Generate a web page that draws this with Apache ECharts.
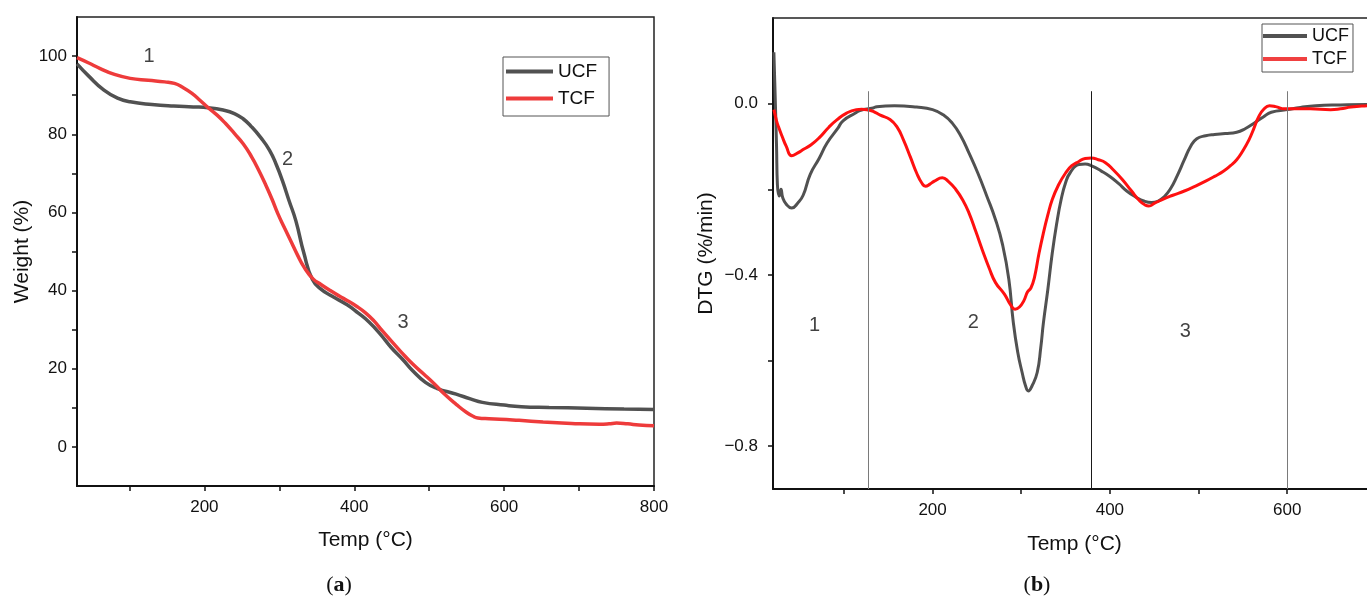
<!DOCTYPE html>
<html>
<head>
<meta charset="utf-8">
<title>TGA / DTG of UCF and TCF</title>
<script src="https://cdn.jsdelivr.net/npm/echarts@6/dist/echarts.min.js"></script>
<style>
  html, body { margin: 0; padding: 0; background: #fff; }
  #chart { width: 1367px; height: 598px; }
</style>
</head>
<body>
<div id="chart"></div>
<script>
// ---- (a) TGA: weight remaining, [temperature °C, weight %] ----
const tgaUCF = [
  [30, 98.0], [45, 95.0], [66, 91.3], [85, 89.2], [101, 88.3], [130, 87.6],
  [159, 87.2], [185, 87.0], [205, 86.8], [225, 86.2], [240, 85.3], [252, 83.9],
  [263, 81.9], [275, 79.2], [287, 75.9], [296, 72.2], [304, 68.2], [313, 63.0],
  [322, 57.9], [333, 49.4], [344, 42.9], [356, 40.3], [370, 38.6], [391, 36.3],
  [405, 34.3], [420, 31.9], [435, 28.8], [449, 25.5], [465, 22.3], [478, 19.5],
  [495, 16.5], [510, 15.0], [536, 13.5], [555, 12.3], [571, 11.4], [600, 10.7],
  [623, 10.3], [660, 10.1], [710, 9.9], [760, 9.7], [800, 9.6]
];
const tgaTCF = [
  [30, 99.6], [45, 98.3], [61, 96.8], [80, 95.3], [101, 94.3], [125, 93.8],
  [147, 93.4], [160, 93.0], [171, 92.0], [183, 90.5], [194, 88.7], [205, 86.8],
  [217, 84.9], [228, 82.8], [240, 80.2], [252, 77.5], [263, 74.2], [272, 71.0],
  [281, 67.4], [290, 63.5], [298, 59.7], [307, 56.0], [315, 52.8], [324, 49.2],
  [333, 46.0], [345, 43.0], [356, 41.5], [368, 40.0], [380, 38.6], [391, 37.4],
  [403, 36.0], [415, 34.3], [426, 32.3], [437, 29.8], [449, 27.2], [463, 24.2],
  [478, 21.2], [493, 18.6], [507, 16.1], [521, 13.4], [536, 10.9], [550, 8.8],
  [560, 7.7], [565, 7.4], [580, 7.2], [594, 7.1], [620, 6.8], [652, 6.4],
  [690, 6.0], [727, 5.8], [740, 5.9], [750, 6.1], [765, 5.9], [780, 5.6], [800, 5.4]
];

// ---- (b) DTG: derivative weight, [temperature °C, %/min] ----
const dtgUCF = [
  [21, 0.12], [22, 0.05], [24, -0.10], [25, -0.19], [27, -0.216], [29, -0.200],
  [31, -0.220], [35, -0.235], [41, -0.244], [48, -0.232], [54, -0.214], [62, -0.165],
  [72, -0.128], [81, -0.092], [93, -0.058], [99, -0.040], [113, -0.022], [118, -0.016],
  [133, -0.010], [137, -0.007], [157, -0.005], [182, -0.008], [200, -0.014], [212, -0.026],
  [222, -0.045], [232, -0.076], [241, -0.115], [251, -0.162], [261, -0.215], [271, -0.271],
  [279, -0.330], [286, -0.410], [291, -0.510], [296, -0.580], [301, -0.628], [305, -0.660],
  [308, -0.671], [312, -0.660], [318, -0.628], [322, -0.570], [325, -0.512], [330, -0.434],
  [335, -0.349], [340, -0.280], [345, -0.224], [350, -0.185], [355, -0.162], [365, -0.142],
  [372, -0.141], [380, -0.146], [390, -0.157], [400, -0.170], [410, -0.187], [419, -0.204],
  [429, -0.218], [439, -0.228], [447, -0.231], [454, -0.228], [461, -0.218], [468, -0.200],
  [476, -0.168], [484, -0.131], [491, -0.100], [498, -0.082], [508, -0.075], [518, -0.072],
  [530, -0.070], [543, -0.067], [553, -0.058], [563, -0.045], [573, -0.031], [582, -0.020],
  [600, -0.014], [615, -0.009], [632, -0.005], [660, -0.003], [690, -0.002], [700, -0.002]
];
const dtgTCF = [
  [21, -0.014], [24, -0.040], [26, -0.053], [30, -0.075], [35, -0.100], [41, -0.122],
  [48, -0.115], [55, -0.106], [63, -0.096], [72, -0.080], [83, -0.055], [92, -0.038],
  [103, -0.022], [114, -0.014], [120, -0.013], [128, -0.015], [133, -0.018], [141, -0.027],
  [152, -0.037], [160, -0.055], [167, -0.084], [175, -0.125], [182, -0.162], [188, -0.186],
  [192, -0.193], [197, -0.188], [202, -0.181], [211, -0.173], [218, -0.182], [226, -0.200],
  [234, -0.225], [241, -0.255], [249, -0.300], [256, -0.341], [264, -0.385], [271, -0.418],
  [281, -0.445], [288, -0.470], [293, -0.480], [298, -0.475], [303, -0.460], [307, -0.440],
  [311, -0.430], [315, -0.405], [320, -0.350], [325, -0.302], [330, -0.260], [335, -0.224],
  [342, -0.190], [350, -0.162], [357, -0.145], [365, -0.135], [372, -0.128], [379, -0.127],
  [387, -0.131], [395, -0.138], [404, -0.155], [414, -0.177], [424, -0.203], [434, -0.228],
  [440, -0.237], [444, -0.239], [450, -0.233], [459, -0.224], [471, -0.214], [484, -0.204],
  [496, -0.193], [508, -0.181], [518, -0.170], [528, -0.158], [536, -0.145], [543, -0.131],
  [550, -0.110], [557, -0.084], [562, -0.060], [568, -0.030], [574, -0.012], [580, -0.005],
  [587, -0.007], [597, -0.012], [612, -0.012], [626, -0.012], [649, -0.014], [660, -0.012],
  [672, -0.008], [690, -0.005], [700, -0.004]
];

// decomposition stage boundaries drawn on the DTG panel (°C) and how high they reach
const stageBounds = [127, 379, 600];
const stageLineTop = 0.029;

// stage numbers: [x, y, text]
const tgaStageLabels = [[126, 99.8, '1'], [311, 73.5, '2'], [465, 31.9, '3']];
const dtgStageLabels = [[67, -0.518, '1'], [246, -0.512, '2'], [485, -0.532, '3']];

// tick positions and labels
const tgaXTicks = [100, 200, 300, 400, 500, 600, 700, 800];
const tgaXLabels = [200, 400, 600, 800];
const tgaYTicks = [0, 10, 20, 30, 40, 50, 60, 70, 80, 90, 100];
const tgaYLabels = [0, 20, 40, 60, 80, 100];
const dtgXTicks = [100, 200, 300, 400, 500, 600];
const dtgXLabels = [200, 400, 600];
const dtgYTicks = [-0.8, -0.6, -0.4, -0.2, 0];
const dtgYLabels = [-0.8, -0.4, 0];

const FONT = '"Liberation Sans", Arial, Helvetica, sans-serif';
const GREY = '#515151';
const RED_A = '#ee3b3b';
const RED_B = '#ff1010';
const INK = '#111';

function valueAxis(extra) {
  return Object.assign({
    type: 'value',
    splitLine: { show: false },
    axisLine: { show: true, onZero: false, lineStyle: { color: INK, width: 2 } },
    axisTick: { show: true, length: 5, lineStyle: { color: INK, width: 1.5 } },
    axisLabel: { color: INK, fontFamily: FONT, fontSize: 17 },
    nameLocation: 'middle',
    nameTextStyle: { color: INK, fontFamily: FONT, fontSize: 21 }
  }, extra);
}

const chart = echarts.init(document.getElementById('chart'), null, { renderer: 'canvas' });

const stageLineData = stageBounds.map((t, i) => [
  { coord: [t, -0.9], lineStyle: { color: i === 1 ? '#1a1a1a' : '#7a7a7a', width: 1, type: 'solid' } },
  { coord: [t, stageLineTop] }
]);

const labelSeries = (data, xi, yi) => ({
  type: 'scatter', xAxisIndex: xi, yAxisIndex: yi, data: data,
  symbolSize: 1, itemStyle: { color: 'rgba(0,0,0,0)' }, silent: true,
  label: {
    show: true, position: 'inside', color: INK, fontFamily: FONT, fontSize: 20,
    formatter: p => p.value[2]
  }
});

const curve = (name, xi, data, color, width) => ({
  name: name, type: 'line', xAxisIndex: xi, yAxisIndex: xi, data: data,
  showSymbol: false, smooth: 0.5,
  lineStyle: { color: color, width: width }, itemStyle: { color: color }
});

const captionRich = {
  p: { fontFamily: '"Liberation Serif", "DejaVu Serif", serif', fontSize: 22, fill: INK },
  b: { fontFamily: '"Liberation Serif", "DejaVu Serif", serif', fontSize: 22, fontWeight: 'bold', fill: INK }
};

// The DTG panel runs off the right edge of the page, so its frame is open there:
// a top axis line stands in for the upper border instead of a closed grid box.
const DTG_XMAX = 690;

const option = {
  animation: false,
  backgroundColor: '#fff',
  grid: [
    { left: 77, top: 17, width: 577, height: 469, show: true, borderColor: '#222', borderWidth: 1.5, backgroundColor: 'rgba(0,0,0,0)' },
    { left: 773, top: 18, right: 0, height: 471, show: false }
  ],
  xAxis: [
    valueAxis({
      gridIndex: 0, min: 30, max: 800, name: 'Temp (°C)', nameGap: 44,
      axisTick: { show: true, length: 5, customValues: tgaXTicks, lineStyle: { color: INK, width: 1.5 } },
      axisLabel: { color: INK, fontFamily: FONT, fontSize: 17, margin: 13, customValues: tgaXLabels }
    }),
    valueAxis({
      gridIndex: 1, min: 20, max: DTG_XMAX, name: 'Temp (°C)', nameGap: 45,
      nameTextStyle: { color: INK, fontFamily: FONT, fontSize: 21, padding: [0, 0, 0, 9] },
      axisTick: { show: true, length: 5, customValues: dtgXTicks, lineStyle: { color: INK, width: 1.5 } },
      axisLabel: { color: INK, fontFamily: FONT, fontSize: 17, margin: 13, customValues: dtgXLabels }
    }),
    {
      type: 'value', gridIndex: 1, position: 'top', min: 20, max: DTG_XMAX,
      axisLine: { show: true, onZero: false, lineStyle: { color: '#222', width: 1.5 } },
      axisTick: { show: false }, axisLabel: { show: false }, splitLine: { show: false }
    }
  ],
  yAxis: [
    valueAxis({
      gridIndex: 0, min: -10, max: 110, name: 'Weight (%)', nameGap: 44,
      axisTick: { show: true, length: 5, customValues: tgaYTicks, lineStyle: { color: INK, width: 1.5 } },
      axisLabel: { color: INK, fontFamily: FONT, fontSize: 17, margin: 10, customValues: tgaYLabels }
    }),
    valueAxis({
      gridIndex: 1, min: -0.9, max: 0.2, name: 'DTG (%/min)', nameGap: 56,
      axisTick: { show: true, length: 5, customValues: dtgYTicks, lineStyle: { color: INK, width: 1.5 } },
      axisLabel: {
        color: INK, fontFamily: FONT, fontSize: 17, margin: 15, customValues: dtgYLabels,
        formatter: v => v.toFixed(1).replace('-', '\u2212')
      }
    })
  ],
  legend: [
    {
      orient: 'vertical', left: 503, top: 57, icon: 'rect',
      itemWidth: 47, itemHeight: 4, itemGap: 8, padding: [5, 12, 8, 3],
      borderColor: '#555', borderWidth: 1, selectedMode: false,
      textStyle: { color: INK, fontFamily: FONT, fontSize: 19 },
      data: [
        { name: 'UCF', itemStyle: { color: GREY } },
        { name: 'TCF', itemStyle: { color: RED_A } }
      ]
    },
    {
      orient: 'vertical', left: 1262, top: 24, icon: 'rect',
      itemWidth: 44, itemHeight: 4, itemGap: 5, padding: [3, 4, 4, 1],
      borderColor: '#555', borderWidth: 1, selectedMode: false,
      textStyle: { color: INK, fontFamily: FONT, fontSize: 18 },
      data: [
        { name: 'UCF', itemStyle: { color: GREY } },
        { name: 'TCF', itemStyle: { color: '#f04040' } }
      ]
    }
  ],
  series: [
    curve('UCF', 0, tgaUCF, GREY, 3.5),
    curve('TCF', 0, tgaTCF, RED_A, 3.5),
    Object.assign(curve('UCF', 1, dtgUCF, GREY, 3), {
      markLine: {
        silent: true, symbol: ['none', 'none'], label: { show: false },
        data: stageLineData
      }
    }),
    curve('TCF', 1, dtgTCF, RED_B, 3),
    labelSeries(tgaStageLabels, 0, 0),
    labelSeries(dtgStageLabels, 1, 1)
  ],
  graphic: [
    {
      type: 'text', x: 339, y: 585,
      style: { text: '{p|(}{b|a}{p|)}', align: 'center', verticalAlign: 'middle', rich: captionRich }
    },
    {
      type: 'text', x: 1037, y: 585,
      style: { text: '{p|(}{b|b}{p|)}', align: 'center', verticalAlign: 'middle', rich: captionRich }
    }
  ]
};

chart.setOption(option);
</script>
</body>
</html>
